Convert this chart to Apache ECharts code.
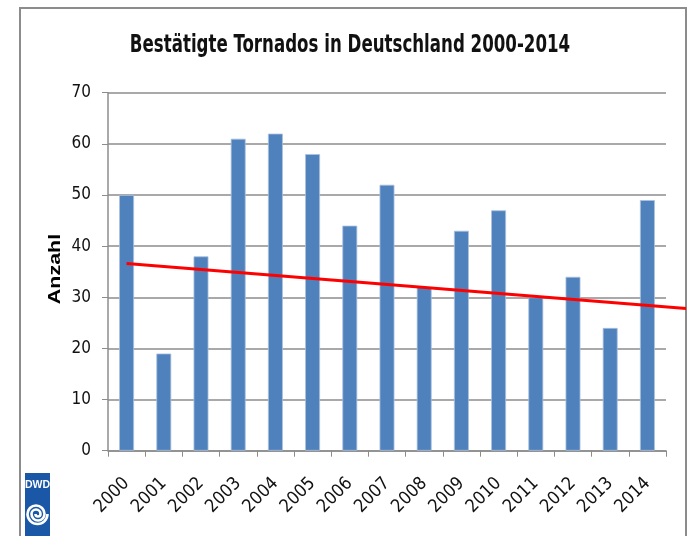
<!DOCTYPE html>
<html>
<head>
<meta charset="utf-8">
<script src="https://cdn.jsdelivr.net/npm/echarts@6/dist/echarts.min.js"></script>
<style>
html,body{margin:0;padding:0;background:#fff;}
#chart{width:691px;height:536px;}
</style>
</head>
<body>
<div id="chart"></div>
<script>
// Data
var years = ['2000','2001','2002','2003','2004','2005','2006','2007','2008','2009','2010','2011','2012','2013','2014'];
var tornadoCounts = [50, 19, 38, 61, 62, 58, 44, 52, 32, 43, 47, 30, 34, 24, 49];
// trend line: start at 2000 (index 0), runs past 2014 up to the frame
var trendIndex = [0, 15.04];
var trendValues = [36.6, 27.8];
var yTicks = [0, 10, 20, 30, 40, 50, 60, 70];

var FONT = '"Liberation Sans Narrow", "DejaVu Sans Condensed", "Liberation Sans", sans-serif';
var chart = echarts.init(document.getElementById('chart'), null, {renderer: 'canvas'});

var trendData = [[trendIndex[0], trendValues[0], trendIndex[1], trendValues[1]]];

var c1 = 37.5, cy = 514;
function spiralArc(cx, r, start, end) {
  return {type: 'arc', shape: {cx: cx, cy: cy, r: r, startAngle: start, endAngle: end, clockwise: true},
          style: {fill: 'none', stroke: '#fff', lineWidth: 2.6}, z: 10};
}

chart.setOption({
  animation: false,
  backgroundColor: '#ffffff',
  graphic: [
    {type: 'rect', shape: {x: 20, y: 8, width: 666, height: 560}, style: {fill: 'none', stroke: '#8c8c8c', lineWidth: 2}, z: -1},
    {type: 'text', x: 350, y: 46, scaleY: 1.3,
     style: {text: 'Bestätigte Tornados in Deutschland 2000-2014', fill: '#111', font: 'bold 18.5px ' + FONT, textAlign: 'center', textVerticalAlign: 'middle'}},
    {type: 'rect', shape: {x: 25, y: 473, width: 25, height: 70}, style: {fill: '#1b57a7'}, z: 5},
    {type: 'text', x: 37.5, y: 485.5, z: 10, style: {text: 'DWD', fill: '#fff', font: 'bold 10.5px "Liberation Sans", sans-serif', textAlign: 'center', textVerticalAlign: 'middle'}},
    spiralArc(c1, 10, 0, Math.PI),
    spiralArc(c1 - 1.5, 8.5, Math.PI, 2 * Math.PI),
    spiralArc(c1 + 0.5, 6.5, 0, Math.PI),
    spiralArc(c1 - 1.5, 4.5, Math.PI, 2 * Math.PI),
    spiralArc(c1 + 0.5, 2.5, 0, Math.PI),
    {type: 'text', x: 55.5, y: 269, rotation: Math.PI / 2, scaleX: 1.3,
     style: {text: 'Anzahl', fill: '#000', font: 'bold 16.5px "Liberation Sans", sans-serif', textAlign: 'center', textVerticalAlign: 'middle'}}
  ],
  grid: {left: 108, right: 25, top: 92.7, bottom: 85.3, containLabel: false},
  xAxis: [
    {
      type: 'category',
      data: years,
      axisLine: {show: true, lineStyle: {color: '#8c8c8c', width: 1.5}},
      axisTick: {show: true, alignWithLabel: false, length: 6, lineStyle: {color: '#8c8c8c'}},
      axisLabel: {rotate: 45, fontFamily: FONT, fontSize: 18, color: '#111', margin: 30, interval: 0}
    },
    {
      type: 'value', min: -0.5, max: 14.5, show: false, position: 'bottom'
    }
  ],
  yAxis: {
    type: 'value',
    min: yTicks[0],
    max: yTicks[yTicks.length - 1],
    interval: 10,
    axisLine: {show: true, onZero: false, lineStyle: {color: '#8c8c8c', width: 1.5}},
    axisTick: {show: true, length: 6, lineStyle: {color: '#8c8c8c'}},
    axisLabel: {fontFamily: FONT, fontSize: 17, color: '#111', margin: 17},
    splitLine: {show: true, lineStyle: {color: '#8c8c8c', width: 1.5}}
  },
  series: [
    {
      type: 'bar',
      data: tornadoCounts,
      barWidth: '40%',
      itemStyle: {color: '#4f81bd', borderColor: '#a9c0de', borderWidth: 0.8},
      xAxisIndex: 0
    },
    {
      type: 'custom',
      xAxisIndex: 1,
      data: trendData,
      clip: false,
      z: 5,
      renderItem: function (params, api) {
        var p0 = api.coord([api.value(0), api.value(1)]);
        var p1 = api.coord([api.value(2), api.value(3)]);
        return {type: 'line', shape: {x1: p0[0], y1: p0[1], x2: p1[0], y2: p1[1]},
                style: {stroke: '#ff0000', lineWidth: 3}};
      }
    }
  ]
});
</script>
</body>
</html>
